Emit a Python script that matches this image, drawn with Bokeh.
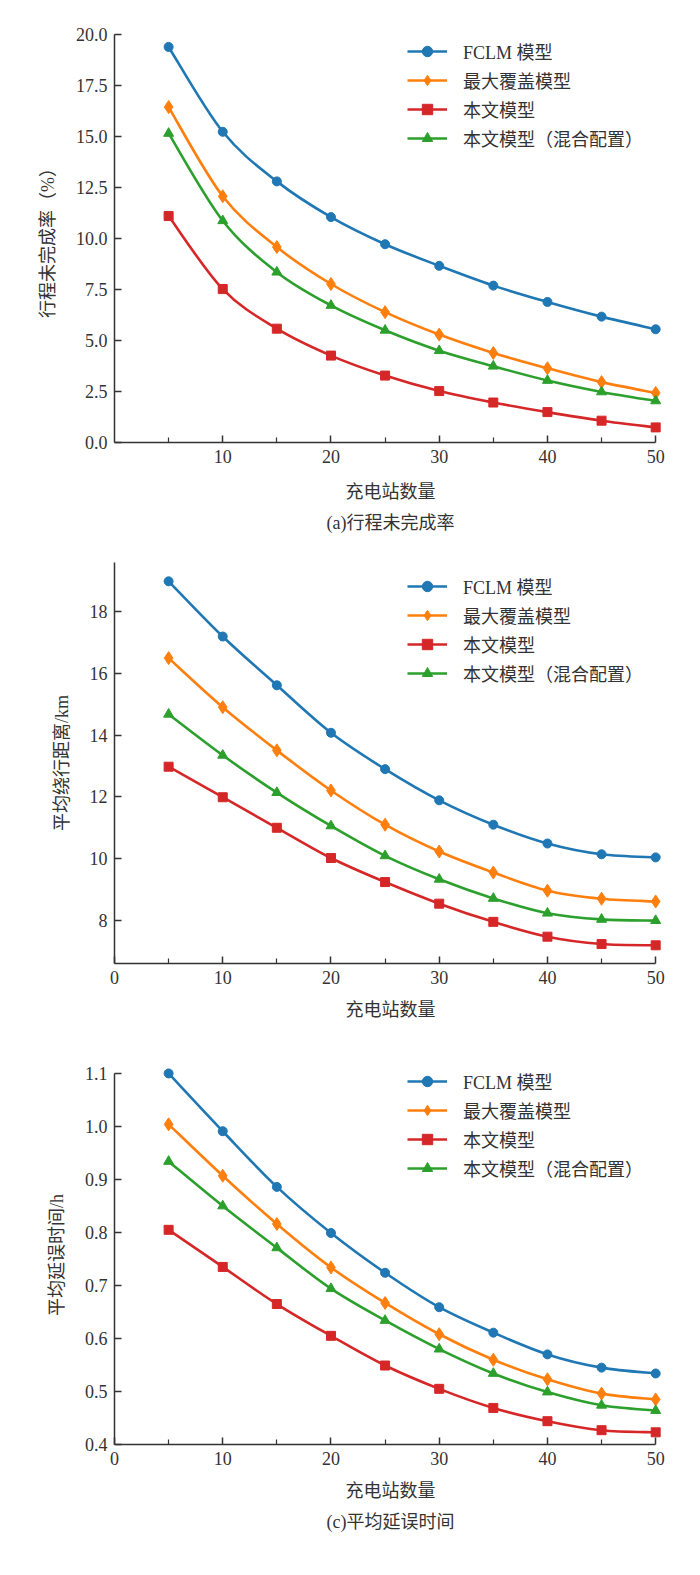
from bokeh.plotting import figure
from bokeh.models import FixedTicker, PrintfTickFormatter, Legend, LegendItem, Title
from bokeh.layouts import column
from bokeh.embed import file_html
from bokeh.resources import INLINE

stations = [5, 10, 15, 20, 25, 30, 35, 40, 45, 50]
names = ["FCLM 模型", "最大覆盖模型", "本文模型", "本文模型（混合配置）"]
colors = ["#1f77b4", "#ff7f0e", "#d62728", "#2ca02c"]
markers = ["circle", "diamond", "square", "triangle"]
marker_sizes = [9, 13, 9, 10]

# (a) 行程未完成率 (%)
unfinished_fclm = [19.39, 15.23, 12.80, 11.05, 9.72, 8.66, 7.69, 6.89, 6.17, 5.55]
unfinished_maxcov = [16.44, 12.07, 9.58, 7.77, 6.39, 5.29, 4.39, 3.64, 2.96, 2.43]
unfinished_ours = [11.10, 7.52, 5.58, 4.26, 3.28, 2.52, 1.96, 1.49, 1.07, 0.74]
unfinished_mixed = [15.15, 10.87, 8.35, 6.72, 5.50, 4.50, 3.74, 3.04, 2.48, 2.04]

# (b) 平均绕行距离 (km)
detour_fclm = [18.99, 17.20, 15.62, 14.08, 12.90, 11.89, 11.10, 10.49, 10.14, 10.04]
detour_maxcov = [16.50, 14.91, 13.51, 12.21, 11.10, 10.23, 9.55, 8.96, 8.70, 8.61]
detour_ours = [12.98, 11.99, 11.00, 10.02, 9.24, 8.54, 7.95, 7.47, 7.23, 7.19]
detour_mixed = [14.68, 13.35, 12.14, 11.06, 10.09, 9.33, 8.71, 8.23, 8.03, 7.99]

# (c) 平均延误时间 (h)
delay_fclm = [1.100, 0.991, 0.886, 0.799, 0.724, 0.659, 0.611, 0.570, 0.545, 0.534]
delay_maxcov = [1.004, 0.907, 0.816, 0.734, 0.667, 0.608, 0.560, 0.523, 0.496, 0.485]
delay_ours = [0.805, 0.735, 0.665, 0.605, 0.549, 0.505, 0.469, 0.444, 0.427, 0.423]
delay_mixed = [0.934, 0.850, 0.771, 0.694, 0.634, 0.580, 0.534, 0.499, 0.474, 0.464]

FONT = "Liberation Serif, Noto Sans CJK SC"
INK = "#333333"


def smooth_segments(xs, ys):
    # Catmull-Rom control points -> cubic bezier pieces between data points
    n = len(xs)
    out = dict(x0=[], y0=[], x1=[], y1=[], cx0=[], cy0=[], cx1=[], cy1=[])
    for i in range(n - 1):
        xp, yp = (xs[i - 1], ys[i - 1]) if i > 0 else (xs[i], ys[i])
        xn, yn = (xs[i + 2], ys[i + 2]) if i + 2 < n else (xs[i + 1], ys[i + 1])
        out["x0"].append(xs[i]); out["y0"].append(ys[i])
        out["x1"].append(xs[i + 1]); out["y1"].append(ys[i + 1])
        out["cx0"].append(xs[i] + (xs[i + 1] - xp) / 6)
        out["cy0"].append(ys[i] + (ys[i + 1] - yp) / 6)
        out["cx1"].append(xs[i + 1] - (xn - xs[i]) / 6)
        out["cy1"].append(ys[i + 1] - (yn - ys[i]) / 6)
    return out


def make_panel(series, y_range, y_ticks, y_fmt, y_label, x_ticks, caption,
               fh, top, bottom, legend_y, y_bounds, xlabel_standoff):
    p = figure(frame_width=552, frame_height=fh, x_range=(0, 51), y_range=y_range,
               output_backend="svg", toolbar_location=None,
               min_border_left=114, min_border_right=18,
               min_border_top=top, min_border_bottom=bottom)
    p.outline_line_color = None
    p.grid.visible = False

    items = []
    for ys, name, c, m, s in zip(series, names, colors, markers, marker_sizes):
        seg = smooth_segments(stations, ys)
        r1 = p.bezier(source=seg, x0="x0", y0="y0", x1="x1", y1="y1",
                      cx0="cx0", cy0="cy0", cx1="cx1", cy1="cy1",
                      line_color=c, line_width=2.6)
        r2 = p.scatter(stations, ys, marker=m, size=s, fill_color=c, line_color=c)
        items.append(LegendItem(label=name, renderers=[r1, r2]))

    legend = Legend(items=items, location=(293, legend_y))
    legend.border_line_color = None
    legend.background_fill_alpha = 0
    legend.padding = 0
    legend.margin = 0
    legend.spacing = 3
    legend.glyph_width = 40
    legend.glyph_height = 26
    legend.label_height = 26
    legend.label_standoff = 16
    legend.label_text_font = FONT
    legend.label_text_font_size = "18px"
    legend.label_text_color = INK
    p.add_layout(legend)

    for ax in (p.xaxis, p.yaxis):
        ax.axis_line_color = INK
        ax.axis_line_width = 1.5
        ax.major_tick_line_color = INK
        ax.major_tick_line_width = 1.5
        ax.minor_tick_line_color = INK
        ax.minor_tick_line_width = 1.2
        ax.major_tick_in = 7
        ax.major_tick_out = 0
        ax.minor_tick_in = 5
        ax.minor_tick_out = 0
        ax.major_label_text_font = FONT
        ax.major_label_text_font_size = "18px"
        ax.major_label_text_color = INK
        ax.axis_label_text_font = FONT
        ax.axis_label_text_font_size = "18px"
        ax.axis_label_text_font_style = "normal"
        ax.axis_label_text_color = INK

    p.xaxis.ticker = FixedTicker(ticks=x_ticks, minor_ticks=[5, 15, 25, 35, 45])
    p.xaxis.bounds = (0, 50)
    p.xaxis.axis_label = "充电站数量"
    p.xaxis.major_label_standoff = 7
    p.xaxis.axis_label_standoff = xlabel_standoff

    p.yaxis.ticker = FixedTicker(ticks=y_ticks, minor_ticks=[])
    p.yaxis.formatter = PrintfTickFormatter(format=y_fmt)
    p.yaxis.bounds = y_bounds
    p.yaxis.axis_label = y_label
    p.yaxis.major_label_standoff = 7
    p.yaxis.axis_label_standoff = 15

    if caption:
        t = Title(text=caption, align="center", text_font=FONT, text_font_size="18px",
                  text_font_style="normal", text_color=INK, standoff=12)
        p.add_layout(t, "below")
    return p


pa = make_panel([unfinished_fclm, unfinished_maxcov, unfinished_ours, unfinished_mixed],
                (0, 20), [0, 2.5, 5, 7.5, 10, 12.5, 15, 17.5, 20], "%.1f",
                "行程未完成率（%）", [10, 20, 30, 40, 50], "(a)行程未完成率",
                408, 34, 100, 291, (0, 20), 16)
pb = make_panel([detour_fclm, detour_maxcov, detour_ours, detour_mixed],
                (6.6, 19.6), [8, 10, 12, 14, 16, 18], "%d",
                "平均绕行距离/km", [0, 10, 20, 30, 40, 50], None,
                401, 20, 86, 277, (6.6, 19.6), 13)
pc = make_panel([delay_fclm, delay_maxcov, delay_ours, delay_mixed],
                (0.4, 1.115), [0.4, 0.5, 0.6, 0.7, 0.8, 0.9, 1.0, 1.1], "%.1f",
                "平均延误时间/h", [0, 10, 20, 30, 40, 50], "(c)平均延误时间",
                379, 16, 104, 263, (0.4, 1.1), 13)

layout = column(pa, pb, pc, spacing=0)
open("out.html", "w").write(file_html(layout, INLINE))
